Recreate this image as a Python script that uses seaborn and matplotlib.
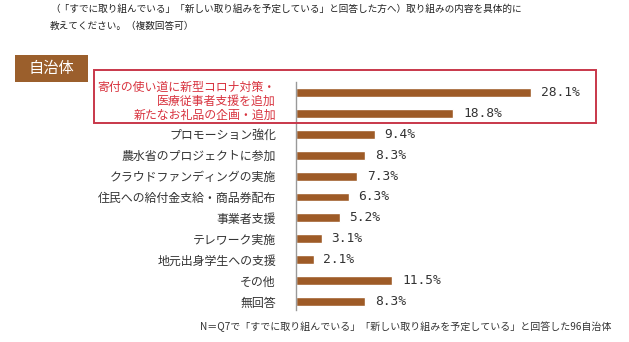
import matplotlib
matplotlib.use("Agg")
import matplotlib.pyplot as plt
import seaborn as sns
import pandas as pd
from matplotlib.patches import Rectangle

categories = [
    "寄付の使い道に新型コロナ対策・\n医療従事者支援を追加",
    "新たなお礼品の企画・追加",
    "プロモーション強化",
    "農水省のプロジェクトに参加",
    "クラウドファンディングの実施",
    "住民への給付金支給・商品券配布",
    "事業者支援",
    "テレワーク実施",
    "地元出身学生への支援",
    "その他",
    "無回答",
]
values = [28.1, 18.8, 9.4, 8.3, 7.3, 6.3, 5.2, 3.1, 2.1, 11.5, 8.3]
highlighted = [True, True, False, False, False, False, False, False, False, False, False]

title_lines = [
    "（「すでに取り組んでいる」「新しい取り組みを予定している」と回答した方へ）取り組みの内容を具体的に",
    "教えてください。（複数回答可）",
]
header_text = "自治体"
footnote_text = "N＝Q7で「すでに取り組んでいる」「新しい取り組みを予定している」と回答した96自治体"

sns.set_style("white")
plt.rcParams['font.family'] = ['Noto Sans CJK JP', 'DejaVu Sans']

W, H = 629, 342
fig = plt.figure(figsize=(W / 100, H / 100), dpi=100)
fig.patch.set_facecolor("white")

ax_l, ax_r, ax_t, ax_b = 296, 620, 82, 312
ax = fig.add_axes([ax_l / W, 1 - ax_b / H, (ax_r - ax_l) / W, (ax_b - ax_t) / H])

df = pd.DataFrame({"category": categories, "value": values})
bar_color = "#9E5B27"
sns.barplot(data=df, x="value", y="category", orient="h", color=bar_color,
            width=0.43, saturation=1, ax=ax)

px_per_pct = 8.37
ax.set_xlim(0, (ax_r - ax_l) / px_per_pct)
ax.set_ylim(len(categories) - 0.5, -0.5)
ax.set_xlabel("")
ax.set_ylabel("")
ax.set_xticks([])
for s in ["top", "right", "bottom"]:
    ax.spines[s].set_visible(False)
ax.spines["left"].set_color("#999999")
ax.spines["left"].set_linewidth(1.0)
ax.spines["left"].set_bounds(-0.5, len(categories) - 0.6)
ax.tick_params(axis="y", length=0, pad=14.5)
ax.set_yticks(range(len(categories)))
ax.set_yticklabels(categories, fontsize=8.6, ha="right", multialignment="right",
                   linespacing=1.05)
for lab, hi in zip(ax.get_yticklabels(), highlighted):
    lab.set_color("#D8333F" if hi else "#333333")

for i, v in enumerate(values):
    ax.annotate(f"{v:.1f}%", xy=(v, i), xytext=(7, 0), textcoords="offset points",
                ha="left", va="center", fontsize=9.3, color="#333333",
                family="DejaVu Sans Mono")

# red highlight box
fig.patches.append(Rectangle((94 / W, 1 - 123 / H), (596 - 94) / W, (123 - 70) / H,
                             transform=fig.transFigure, fill=False,
                             edgecolor="#C8374A", linewidth=1.4))

# header box
fig.patches.append(Rectangle((15 / W, 1 - 82 / H), (88 - 15) / W, (82 - 55) / H,
                             transform=fig.transFigure, facecolor="#9B5F2C",
                             edgecolor="none"))
fig.text((15 + 88) / 2 / W, 1 - 68.5 / H, header_text, ha="center", va="center",
         fontsize=11, color="white")

for line, yc in zip(title_lines, [9, 26]):
    fig.text(50 / W, 1 - yc / H, line, ha="left", va="center", fontsize=6.95,
             color="#222222")

fig.text(200 / W, 1 - 327 / H, footnote_text, ha="left", va="center", fontsize=7.2,
         color="#333333")

fig.savefig("out.png", dpi=100, facecolor="white")
